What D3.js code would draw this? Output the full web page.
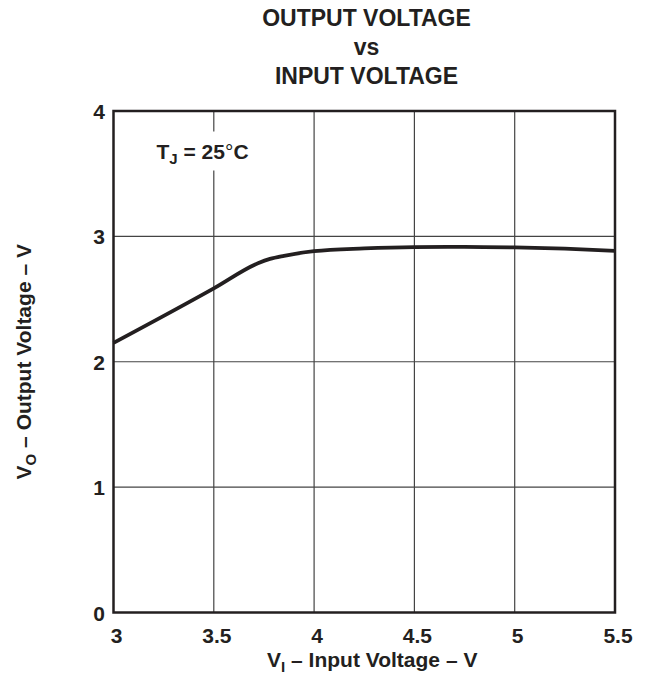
<!DOCTYPE html>
<html>
<head>
<meta charset="utf-8">
<script src="https://cdn.jsdelivr.net/npm/d3@7"></script>
<style>
  body { margin: 0; background: #fff; }
  svg text { font-family: "Liberation Sans", Arial, sans-serif; font-weight: bold; fill: #231f20; }
</style>
</head>
<body>
<div id="chart"></div>
<script>
// input voltage (V) and output voltage (V)
var vin = [3.0, 3.5, 3.72, 3.78, 3.85, 4.0, 4.25, 4.5, 4.75, 5.0, 5.25, 5.5];
var vout = [2.15, 2.585, 2.785, 2.82, 2.845, 2.882, 2.904, 2.915, 2.917, 2.912, 2.902, 2.885];

var xTicks = [3, 3.5, 4, 4.5, 5, 5.5];
var xTickLabels = ["3", "3.5", "4", "4.5", "5", "5.5"];
var yTicks = [0, 1, 2, 3, 4];
var yTickLabels = ["0", "1", "2", "3", "4"];
var titleLines = ["OUTPUT VOLTAGE", "vs", "INPUT VOLTAGE"];

var W = 651, H = 681;
var m = {left: 113.5, top: 111, right: 36, bottom: 68.5};
var pw = W - m.left - m.right, ph = H - m.top - m.bottom;

var svg = d3.select("#chart").append("svg")
    .attr("width", W)
    .attr("height", H);

var x = d3.scaleLinear().domain([3, 5.5]).range([0, pw]);
var y = d3.scaleLinear().domain([0, 4]).range([ph, 0]);

// title
svg.selectAll("text.title").data(titleLines).enter().append("text")
    .attr("class", "title")
    .attr("x", 366.5)
    .attr("y", function (d, i) { return 26 + i * 29; })
    .attr("text-anchor", "middle")
    .style("font-size", "23px")
    .text(function (d) { return d; });

var g = svg.append("g").attr("transform", "translate(" + m.left + "," + m.top + ")");

// grid
g.selectAll("line.vgrid").data(xTicks.slice(1, -1)).enter().append("line")
    .attr("x1", function (d) { return x(d); })
    .attr("x2", function (d) { return x(d); })
    .attr("y1", 0).attr("y2", ph)
    .style("stroke", "#444").style("stroke-width", 1.2);

g.selectAll("line.hgrid").data(yTicks.slice(1, -1)).enter().append("line")
    .attr("y1", function (d) { return y(d); })
    .attr("y2", function (d) { return y(d); })
    .attr("x1", 0).attr("x2", pw)
    .style("stroke", "#444").style("stroke-width", 1.2);

// tick labels via axes
var xAxis = g.append("g")
    .attr("transform", "translate(0," + ph + ")")
    .call(d3.axisBottom(x).tickValues(xTicks)
        .tickFormat(function (d, i) { return xTickLabels[i]; })
        .tickSize(0));
xAxis.select(".domain").remove();
xAxis.selectAll("text").attr("dx", 2.5).attr("y", 30.5).attr("dy", 0)
    .style("font-size", "21px").style("font-family", null);

var yAxis = g.append("g")
    .call(d3.axisLeft(y).tickValues(yTicks)
        .tickFormat(function (d, i) { return yTickLabels[i]; })
        .tickSize(0).tickPadding(8.5));
yAxis.select(".domain").remove();
yAxis.selectAll("text").attr("dy", "0.36em")
    .style("font-size", "21px").style("font-family", null);

// label with white backing
var lab = g.append("g").attr("transform", "translate(" + (x(3) + 43) + "," + (y(4) + 47.5) + ")");
lab.append("rect").attr("x", -8).attr("y", -27).attr("width", 116).attr("height", 39).style("fill", "#fff");
var t = lab.append("text").style("font-size", "21px");
t.append("tspan").text("T");
t.append("tspan").attr("dy", 5).style("font-size", "15px").text("J");
t.append("tspan").attr("dy", -5).text(" = 25");
t.append("tspan").style("font-weight", "normal").text("°");
t.append("tspan").text("C");

// curve
var line = d3.line()
    .curve(d3.curveMonotoneX)
    .x(function (d, i) { return x(vin[i]); })
    .y(function (d) { return y(d); });

g.append("path")
    .attr("d", line(vout))
    .style("fill", "none")
    .style("stroke", "#231f20")
    .style("stroke-width", 3.8)
    .style("stroke-linejoin", "round");

// frame
g.append("rect")
    .attr("width", pw).attr("height", ph)
    .style("fill", "none").style("stroke", "#231f20").style("stroke-width", 2.5);

// axis titles
var xt = svg.append("text")
    .attr("x", m.left + pw / 2 + 8)
    .attr("y", 667)
    .attr("text-anchor", "middle")
    .style("font-size", "21px");
xt.append("tspan").text("V");
xt.append("tspan").attr("dy", 5).style("font-size", "15px").text("I");
xt.append("tspan").attr("dy", -5).text(" \u2013 Input Voltage \u2013 V");

var yt = svg.append("text")
    .attr("transform", "translate(30.5," + (m.top + ph / 2) + ") rotate(-90)")
    .attr("text-anchor", "middle")
    .style("font-size", "21px");
yt.append("tspan").text("V");
yt.append("tspan").attr("dy", 5).style("font-size", "15px").text("O");
yt.append("tspan").attr("dy", -5).text(" \u2013 Output Voltage \u2013 V");
</script>
</body>
</html>
